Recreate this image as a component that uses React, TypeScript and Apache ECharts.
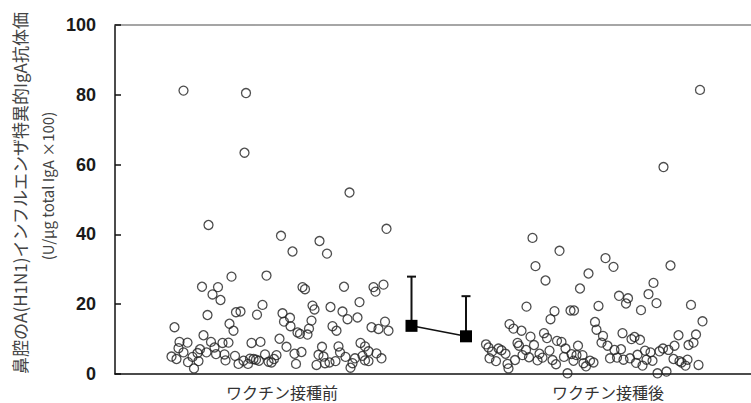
import React, { useEffect, useRef } from "react";
import * as echarts from "echarts";

const categories = ["ワクチン接種前", "ワクチン接種後"];
const categoryPositions = [33.4, 98.6];
const yTitleLines = ["鼻腔のA(H1N1)インフルエンザ特異的IgA抗体価", "(U/μg total IgA ×100)"];

// [jitter position, value]
const beforePoints: number[][] = [
  [13.7, 81.2], [26.2, 80.5], [25.9, 63.4], [46.9, 52.0], [18.7, 42.7], [54.3, 41.6],
  [33.2, 39.6], [40.9, 38.1], [35.5, 35.1], [42.4, 34.5], [23.3, 27.9], [30.3, 28.2],
  [17.4, 25.0], [20.6, 24.9], [19.5, 22.8], [21.1, 21.2], [37.5, 24.9], [38.0, 24.3],
  [45.8, 25.0], [51.7, 24.9], [53.7, 25.6], [52.1, 23.6], [48.9, 20.6], [29.5, 19.8],
  [39.5, 19.6], [39.9, 18.5], [43.1, 19.2], [24.2, 17.7], [25.1, 17.9], [18.5, 16.9],
  [28.4, 17.0], [33.5, 17.4], [45.5, 17.9], [35.0, 16.1], [33.8, 15.0], [46.5, 15.7],
  [48.5, 16.2], [39.3, 15.3], [54.0, 15.0], [11.9, 13.4], [22.9, 14.4], [23.7, 12.4],
  [35.1, 13.7], [43.5, 13.7], [44.3, 12.4], [51.3, 13.4], [52.7, 12.9], [54.7, 12.4],
  [36.5, 11.9], [37.0, 11.5], [38.5, 11.3], [38.8, 13.0], [17.7, 11.1], [12.9, 9.2],
  [14.5, 9.0], [19.2, 9.2], [21.5, 8.9], [22.7, 9.0], [27.3, 8.9], [29.1, 9.2],
  [32.9, 10.1], [34.3, 7.8], [41.4, 7.8], [44.7, 7.9], [49.1, 8.9], [50.0, 7.9],
  [50.7, 6.5], [12.7, 7.4], [13.7, 6.2], [17.0, 7.1], [18.3, 6.2], [19.9, 7.6],
  [20.2, 5.7], [21.9, 5.6], [11.3, 5.0], [12.3, 4.3], [14.6, 3.4], [15.5, 4.9],
  [16.5, 6.0], [16.7, 3.7], [15.8, 1.6], [22.1, 3.9], [24.0, 5.2], [24.7, 2.9],
  [25.7, 3.8], [26.6, 2.9], [27.0, 4.4], [27.7, 4.3], [28.2, 4.1], [28.8, 3.8],
  [30.0, 5.6], [30.7, 3.5], [31.3, 3.3], [31.8, 4.3], [32.3, 5.4], [35.9, 5.8],
  [36.2, 2.9], [37.3, 6.3], [40.3, 2.6], [40.7, 5.5], [41.7, 5.0], [42.0, 3.1],
  [42.9, 3.3], [44.1, 3.7], [45.0, 6.2], [46.1, 4.9], [47.1, 1.8], [47.5, 3.1],
  [48.0, 4.5], [49.5, 5.2], [50.0, 3.9], [50.7, 3.7], [52.3, 5.9], [53.3, 4.5],
];

const afterPoints: number[][] = [
  [117.0, 81.4], [109.7, 59.3], [83.5, 39.0], [88.9, 35.3], [84.1, 30.9], [86.1, 26.8],
  [98.1, 33.2], [99.7, 30.7], [111.1, 31.1], [94.7, 28.8], [93.0, 24.5], [107.7, 26.1],
  [106.7, 22.9], [100.8, 22.4], [102.6, 21.7], [102.2, 20.2], [108.3, 20.3], [115.2, 19.8],
  [82.3, 19.3], [96.7, 19.5], [105.2, 18.3], [91.1, 18.2], [91.8, 18.2], [87.9, 18.0],
  [87.1, 15.7], [117.5, 15.1], [96.0, 14.9], [96.3, 12.7], [78.9, 14.3], [79.7, 13.0],
  [81.3, 12.4], [83.1, 10.7], [83.8, 8.3], [85.8, 11.7], [86.4, 10.3], [88.4, 9.5],
  [89.3, 9.2], [92.6, 8.1], [90.1, 7.3], [86.9, 6.7], [97.6, 10.9], [97.3, 9.0],
  [98.5, 8.1], [101.5, 11.7], [103.3, 10.0], [103.9, 10.6], [105.0, 9.8], [112.7, 11.1],
  [111.9, 8.1], [114.7, 8.3], [115.7, 9.0], [116.2, 11.3], [74.2, 8.5], [74.7, 7.6],
  [75.4, 6.4], [74.9, 4.5], [76.2, 3.7], [76.7, 7.3], [77.3, 6.8], [78.1, 5.8],
  [78.5, 2.9], [78.7, 1.6], [80.0, 4.0], [80.5, 8.9], [80.8, 8.1], [81.5, 5.4],
  [82.2, 6.9], [82.8, 4.8], [84.5, 3.9], [84.9, 5.8], [85.5, 4.7], [87.5, 4.0],
  [88.2, 2.8], [89.8, 4.9], [90.5, 0.2], [91.3, 5.7], [91.7, 3.8], [92.3, 5.4],
  [93.5, 5.4], [93.7, 3.1], [94.2, 2.2], [95.0, 3.8], [95.7, 3.3], [99.0, 4.5],
  [99.9, 6.9], [100.4, 4.7], [101.2, 7.1], [101.7, 4.1], [103.0, 4.5], [104.2, 3.2],
  [104.5, 5.5], [105.5, 2.4], [106.0, 6.7], [106.3, 4.1], [107.1, 6.2], [107.5, 3.8],
  [108.5, 0.2], [108.9, 6.5], [109.6, 7.3], [110.3, 0.7], [110.7, 6.9], [111.7, 4.3],
  [112.9, 3.7], [113.3, 3.3], [114.1, 2.4], [114.5, 4.1], [116.7, 2.6],
];

const meanPositions = [59.3, 70.2];
const meanValues = [13.8, 10.8];
const errorUpper = [27.9, 22.3];

export default function App() {
  const ref = useRef<HTMLDivElement>(null);
  useEffect(() => {
    if (!ref.current) return;
    const chart = echarts.init(ref.current, null, { renderer: "svg" });
    const meanData = meanPositions.map((x, i) => [x, meanValues[i]]);
    const errData = meanPositions.map((x, i) => [x, meanValues[i], errorUpper[i]]);
    const titleLayout = [
      { x: 19, y: 193, size: 17 },
      { x: 47, y: 186, size: 15 },
    ];
    chart.setOption({
      animation: false,
      backgroundColor: "#ffffff",
      grid: {
        left: 115,
        top: 25,
        right: 0,
        bottom: 29,
        show: false,
      },
      xAxis: [
        {
          type: "value",
          min: 0,
          max: 133,
          splitLine: { show: false },
          axisLine: { lineStyle: { color: "#111", width: 1.5 } },
          axisTick: { show: false },
          axisLabel: {
            customValues: categoryPositions,
            formatter: (v: number) => {
              let best = 0;
              categoryPositions.forEach((p, i) => {
                if (Math.abs(p - v) < Math.abs(categoryPositions[best] - v)) best = i;
              });
              return categories[best];
            },
            color: "#333",
            fontSize: 16,
            fontFamily: "Noto Sans CJK JP",
            margin: 10,
          },
        },
        {
          type: "value",
          position: "top",
          min: 0,
          max: 133,
          splitLine: { show: false },
          axisLine: { show: true, lineStyle: { color: "#888", width: 1.5 } },
          axisTick: { show: false },
          axisLabel: { show: false },
        },
      ],
      yAxis: {
        type: "value",
        min: 0,
        max: 100,
        interval: 20,
        splitLine: { show: false },
        axisLine: { show: true, lineStyle: { color: "#111", width: 1.5 } },
        axisTick: { show: true, inside: true, length: 6, lineStyle: { color: "#111", width: 1.5 } },
        axisLabel: {
          color: "#1a1a1a",
          fontSize: 18,
          fontWeight: "bold",
          fontFamily: "Liberation Sans, Arial, sans-serif",
          margin: 19,
        },
      },
      graphic: yTitleLines.map((t, i) => ({
        type: "text",
        x: titleLayout[i].x,
        y: titleLayout[i].y,
        rotation: Math.PI / 2,
        style: {
          text: t,
          fontSize: titleLayout[i].size,
          fontFamily: "Noto Sans CJK JP",
          fill: "#444",
          align: "center",
          verticalAlign: "middle",
        },
      })),
      series: [
        {
          type: "scatter",
          data: beforePoints,
          symbol: "circle",
          symbolSize: 9,
          itemStyle: { color: "rgba(255,255,255,0)", borderColor: "#222", borderWidth: 1.3 },
          z: 2,
        },
        {
          type: "scatter",
          data: afterPoints,
          symbol: "circle",
          symbolSize: 9,
          itemStyle: { color: "rgba(255,255,255,0)", borderColor: "#222", borderWidth: 1.3 },
          z: 2,
        },
        {
          type: "custom",
          data: errData,
          z: 3,
          renderItem: (params: any, api: any) => {
            const x = api.value(0);
            const p0 = api.coord([x, api.value(1)]);
            const p1 = api.coord([x, api.value(2)]);
            const cap = 4.5;
            return {
              type: "group",
              children: [
                {
                  type: "line",
                  shape: { x1: p0[0], y1: p0[1], x2: p1[0], y2: p1[1] },
                  style: { stroke: "#111", lineWidth: 2 },
                },
                {
                  type: "line",
                  shape: { x1: p1[0] - cap, y1: p1[1], x2: p1[0] + cap, y2: p1[1] },
                  style: { stroke: "#111", lineWidth: 2 },
                },
              ],
            };
          },
        },
        {
          type: "line",
          data: meanData,
          symbol: "rect",
          symbolSize: 12,
          itemStyle: { color: "#000" },
          lineStyle: { color: "#111", width: 1.5 },
          z: 4,
        },
      ],
    });
    return () => chart.dispose();
  }, []);
  return (
    <div
      style={{
        position: "fixed",
        left: 0,
        top: 0,
        width: 751,
        height: 403,
        overflow: "hidden",
        background: "#fff",
      }}
    >
      <div ref={ref} style={{ width: 780, height: 403 }} />
    </div>
  );
}
